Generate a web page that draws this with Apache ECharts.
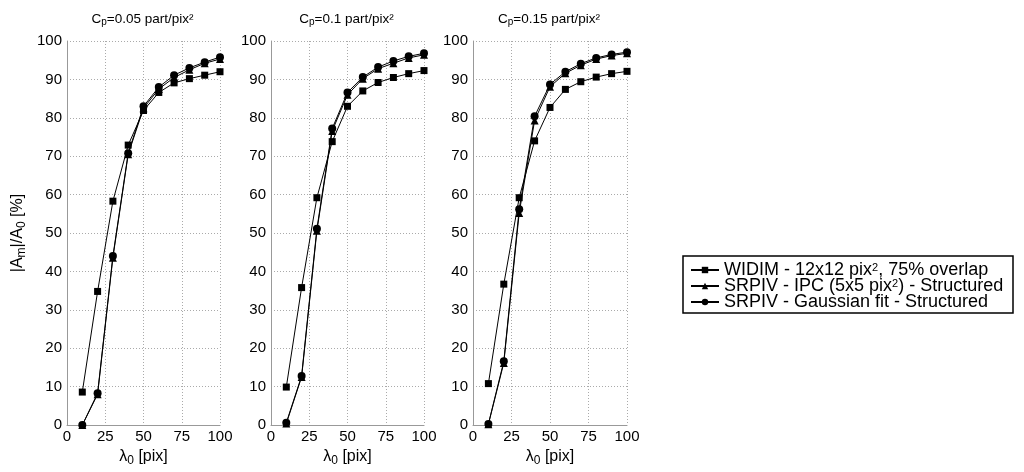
<!DOCTYPE html>
<html><head><meta charset="utf-8">
<script src="https://cdn.jsdelivr.net/npm/echarts@6/dist/echarts.min.js"></script>
<style>html,body{margin:0;padding:0;background:#fff}#c{width:1024px;height:472px}</style>
</head><body><div id="c"></div>
<script>
const lambda = [10,20,30,40,50,60,70,80,90,100];
const xTicks = [0,25,50,75,100];
const yTicks = [0,10,20,30,40,50,60,70,80,90,100];
const panelTitles = ['0.05','0.1','0.15'];
const seriesNames = ['WIDIM - 12x12 pix², 75% overlap','SRPIV - IPC (5x5 pix²) - Structured','SRPIV - Gaussian fit - Structured'];
// Cp = 0.05
const widim_005 = [8.6,34.8,58.3,72.9,81.9,86.6,89.1,90.2,91.1,92.0];
const ipc_005   = [0.0,8.0,43.6,70.5,82.5,87.5,90.5,92.5,94.2,95.3];
const gauss_005 = [0.0,8.3,44.0,70.8,83.0,88.0,91.1,93.0,94.5,95.8];
// Cp = 0.1
const widim_01 = [9.9,35.8,59.2,73.8,83.0,87.0,89.2,90.5,91.5,92.3];
const ipc_01   = [0.4,12.5,50.6,76.6,86.0,90.2,92.8,94.2,95.6,96.4];
const gauss_01 = [0.6,12.8,51.1,77.2,86.6,90.6,93.2,94.8,96.0,96.8];
// Cp = 0.15
const widim_015 = [10.8,36.7,59.2,74.0,82.7,87.4,89.4,90.6,91.5,92.1];
const ipc_015   = [0.2,16.2,55.2,79.3,88.1,91.6,93.7,95.3,96.2,96.8];
const gauss_015 = [0.3,16.6,56.2,80.4,88.7,92.0,94.1,95.6,96.5,97.1];

const panels = [[widim_005,ipc_005,gauss_005],[widim_01,ipc_01,gauss_01],[widim_015,ipc_015,gauss_015]];
const FONT = '"Liberation Sans", Arial, sans-serif';
const gridPos = [{left:67,width:153},{left:271,width:153},{left:473,width:154}];
const symbols = ['rect','triangle','circle'];
const symSizes = [7,8,8];

const nameRich = {
  t:{fontSize:16, fontFamily:FONT, color:'#000', lineHeight:20},
  sub:{fontSize:12, fontFamily:FONT, color:'#000', lineHeight:8, verticalAlign:'bottom'}
};
const grids = gridPos.map(g => ({left:g.left, width:g.width, top:41, height:390}));
const xAxes = gridPos.map((g,i) => ({
  type:'value', gridIndex:i, min:0, max:100, interval:25,
  name:'{t|λ}{sub|0}{t| [pix]}', nameLocation:'middle', nameGap:21,
  nameTextStyle:{fontFamily:FONT, color:'#000', rich:nameRich},
  axisLine:{show:true, lineStyle:{color:'#999', width:1}},
  axisTick:{show:false},
  axisLabel:{color:'#000', fontSize:15, fontFamily:FONT, margin:4,
    formatter: v => xTicks.includes(v) ? String(v) : ''},
  splitLine:{show:true, lineStyle:{color:'#aaa', type:[1,2], width:1}}
}));
const yAxes = gridPos.map((g,i) => ({
  type:'value', gridIndex:i, min:0, max:100, interval:10,
  name: i===0 ? '{t||A}{sub|m}{t||/A}{sub|0}{t| [%]}' : '',
  nameLocation:'middle', nameGap:39, nameRotate:90,
  nameTextStyle:{fontFamily:FONT, color:'#000', rich:nameRich},
  axisLine:{show:true, lineStyle:{color:'#999', width:1}},
  axisTick:{show:false},
  axisLabel:{color:'#000', fontSize:15, fontFamily:FONT, margin:5,
    formatter: v => yTicks.includes(v) ? String(v) : ''},
  splitLine:{show:true, lineStyle:{color:'#aaa', type:[1,2], width:1}}
}));
const series = [];
panels.forEach((p,i) => {
  p.forEach((arr,k) => {
    series.push({
      type:'line', name:seriesNames[k], xAxisIndex:i, yAxisIndex:i,
      data: lambda.map((x,j) => [x, arr[j]]),
      symbol:symbols[k], symbolSize:symSizes[k], showSymbol:true,
      lineStyle:{color:'#000', width:1}, itemStyle:{color:'#000'},
      z: 2+k, animation:false, silent:true
    });
  });
});
const titles = gridPos.map((g,i) => ({
  text:'{t|C}{sub|p}{t|=' + panelTitles[i] + ' part/pix²}',
  left: g.left + g.width/2 - 6, top: 6, textAlign:'center',
  textStyle:{fontWeight:'normal', rich:{
    t:{fontSize:13.5, fontFamily:FONT, color:'#000', lineHeight:16, fontWeight:'normal'},
    sub:{fontSize:10, fontFamily:FONT, color:'#000', lineHeight:6, verticalAlign:'bottom', fontWeight:'normal'}}}
}));
const legendRich = {
  t:{fontSize:18, fontFamily:FONT, color:'#000', lineHeight:16},
  sup:{fontSize:11, fontFamily:FONT, color:'#000', lineHeight:4, verticalAlign:'top'}
};
const option = {
  backgroundColor:'#fff',
  animation:false,
  title: titles,
  grid: grids, xAxis: xAxes, yAxis: yAxes, series,
  legend:{
    data: seriesNames, orient:'vertical', left:690, top:261, itemGap:-2,
    itemWidth:28, itemHeight:8, padding:0,
    formatter: n => {
      const parts = n.split('²');
      if (parts.length === 1) return '{t|' + n + '}';
      return '{t|' + parts[0] + '}{sup|2}{t|' + parts[1] + '}';
    },
    textStyle:{rich:legendRich, fontFamily:FONT, fontSize:18, color:'#000'}
  },
  graphic:[{type:'rect', shape:{x:683, y:256, width:330, height:57},
    style:{fill:'none', stroke:'#000', lineWidth:1.5}, z:0, silent:true}]
};
const chart = echarts.init(document.getElementById('c'), null, {renderer:'canvas'});
chart.setOption(option);
</script></body></html>
